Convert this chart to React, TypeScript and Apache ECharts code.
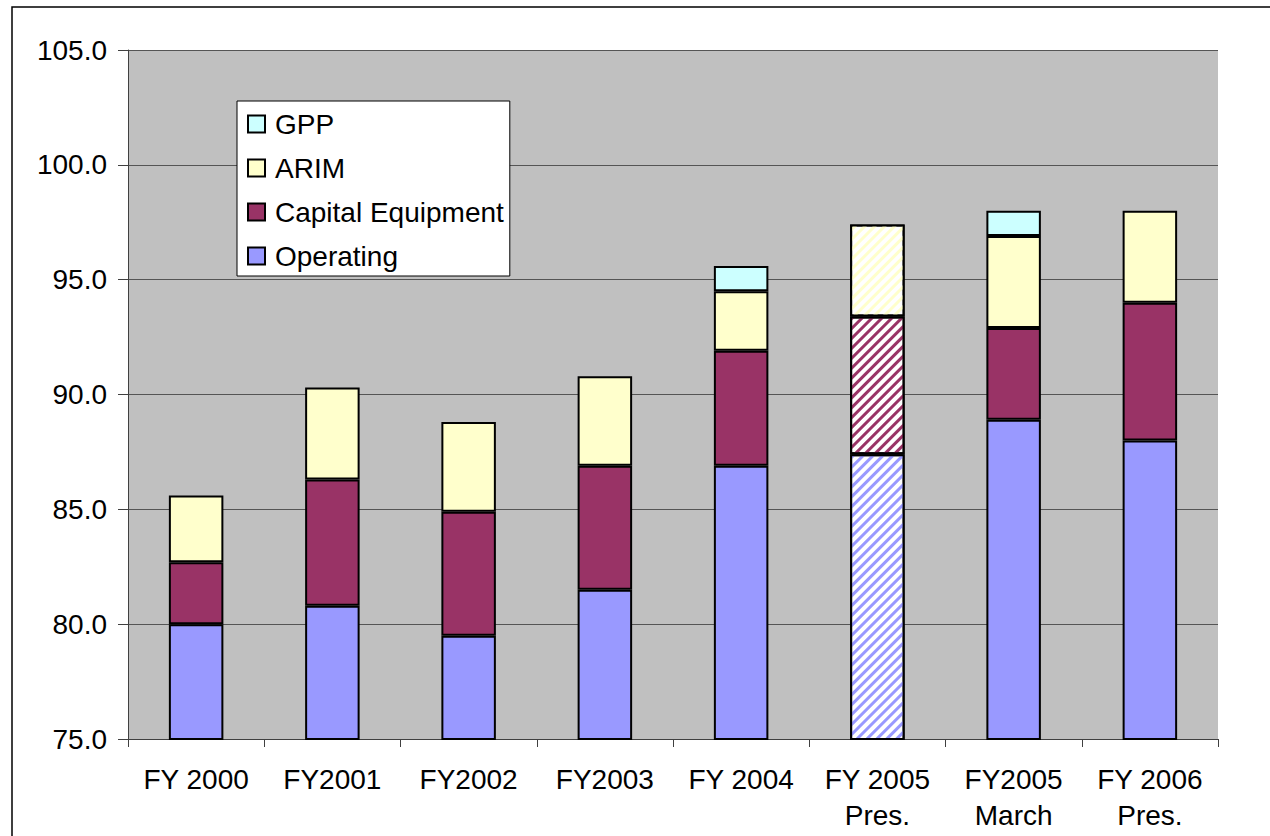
import React, { useEffect, useRef } from "react";
import * as echarts from "echarts";

const categories = [
  "FY 2000",
  "FY2001",
  "FY2002",
  "FY2003",
  "FY 2004",
  "FY 2005\nPres.",
  "FY2005\nMarch",
  "FY 2006\nPres.",
];
const operating = [80.0, 80.8, 79.5, 81.5, 86.9, 87.4, 88.9, 88.0];
const capitalEquipment = [2.7, 5.5, 5.4, 5.4, 5.0, 6.0, 4.0, 6.0];
const arim = [2.9, 4.0, 3.9, 3.9, 2.6, 4.0, 4.0, 4.0];
const gpp: (number | null)[] = [null, null, null, null, 1.1, null, 1.1, null];
const hatchedIndex = 5;

const FONT = "'Liberation Sans', Arial, sans-serif";

function makeData(values: (number | null)[], color: string) {
  return values.map((v, i) => {
    if (v === null) return null;
    if (i === hatchedIndex) {
      return {
        value: v,
        itemStyle: {
          color: "#ffffff",
          decal: {
            symbol: "rect",
            color,
            dashArrayX: [1, 0],
            dashArrayY: [3, 4],
            rotation: -Math.PI / 4,
          },
        },
      };
    }
    return v;
  });
}

export default function App() {
  const ref = useRef<HTMLDivElement>(null);
  useEffect(() => {
    if (!ref.current) return;
    const chart = echarts.init(ref.current, null, { renderer: "svg" });
    const seriesDef = [
      { name: "Operating", data: operating, color: "#9999FF" },
      { name: "Capital Equipment", data: capitalEquipment, color: "#993366" },
      { name: "ARIM", data: arim, color: "#FFFFCC" },
      { name: "GPP", data: gpp, color: "#CCFFFF" },
    ];
    chart.setOption({
      animation: false,
      backgroundColor: "#ffffff",
      graphic: [
        {
          type: "rect",
          shape: { x: 12, y: 7, width: 1400, height: 1000 },
          style: { fill: "none", stroke: "#000", lineWidth: 1.5 },
          z: -1,
        },
      ],
      grid: {
        left: 128,
        top: 50,
        right: 52,
        bottom: 97,
        show: true,
        backgroundColor: "#C0C0C0",
        borderWidth: 0,
      },
      legend: {
        orient: "vertical",
        left: 237,
        top: 101,
        data: ["GPP", "ARIM", "Capital Equipment", "Operating"],
        icon: "rect",
        itemWidth: 17,
        itemHeight: 17,
        itemGap: 16,
        padding: [9, 6, 6, 10],
        backgroundColor: "#ffffff",
        borderColor: "#000000",
        borderWidth: 1,
        borderRadius: 0,
        textStyle: {
          fontFamily: FONT,
          fontSize: 28,
          color: "#000",
          padding: [0, 0, 0, 5],
        },
        selectedMode: false,
      },
      xAxis: {
        type: "category",
        data: categories,
        axisLine: { lineStyle: { color: "#404040", width: 1 } },
        axisTick: { show: true, length: 8, alignWithLabel: false, lineStyle: { color: "#404040" } },
        axisLabel: {
          fontFamily: FONT,
          fontSize: 28,
          color: "#000",
          lineHeight: 36,
          margin: 22,
          interval: 0,
        },
      },
      yAxis: {
        type: "value",
        min: 75,
        max: 105,
        interval: 5,
        axisLine: { show: true, lineStyle: { color: "#404040", width: 1 } },
        axisTick: { show: true, length: 10, lineStyle: { color: "#404040" } },
        splitLine: { show: true, lineStyle: { color: "#555555", width: 1 } },
        axisLabel: {
          fontFamily: FONT,
          fontSize: 28,
          color: "#000",
          margin: 21,
          formatter: (v: number) => v.toFixed(1),
        },
      },
      series: seriesDef.map((s) => ({
        name: s.name,
        type: "bar",
        stack: "total",
        barWidth: "40%",
        data: makeData(s.data, s.color),
        itemStyle: { color: s.color, borderColor: "#000", borderWidth: 2 },
        emphasis: { disabled: true },
      })),
    });
    return () => chart.dispose();
  }, []);
  return (
    <div
      ref={ref}
      style={{ position: "fixed", left: 0, top: 0, width: 1270, height: 836 }}
    />
  );
}
